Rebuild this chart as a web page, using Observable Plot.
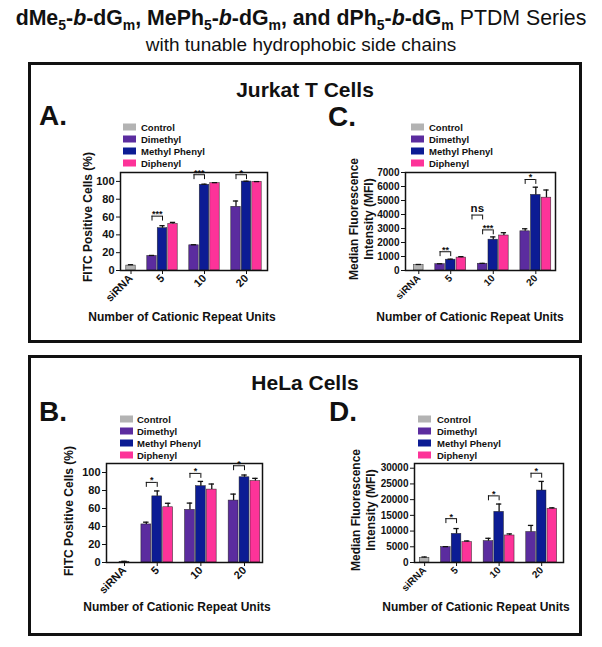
<!DOCTYPE html>
<html><head><meta charset="utf-8">
<script src="https://cdn.jsdelivr.net/npm/d3@7"></script>
<script src="https://cdn.jsdelivr.net/npm/@observablehq/plot@0.6"></script>
<style>
body{margin:0;background:#fff;}
#fig{position:relative;width:602px;height:647px;overflow:hidden;background:#fff;font-family:"Liberation Sans",Arial,Helvetica,sans-serif;}
.box{position:absolute;border:3px solid #111;box-sizing:border-box;}
.plot{position:absolute;}
#overlay{position:absolute;left:0;top:0;}
</style></head><body>
<div id="fig">
  <div class="box" style="left:28px;top:62px;width:554px;height:281px"></div>
  <div class="box" style="left:28px;top:355px;width:554px;height:281px"></div>
  <svg id="overlay" width="602" height="647"></svg>
</div>
<script>
// ---------- data ----------
const groups = ["siRNA", "5", "10", "20"];
const repeatGroups = ["5", "10", "20"];
const seriesNames = ["Control", "Dimethyl", "Methyl Phenyl", "Diphenyl"];
const seriesColors = ["#b3b3b3", "#5b2c9f", "#0c1c94", "#fd3399"];

const fitcTicks = [0, 20, 40, 60, 80, 100];
const jurkatMfiTicks = [0, 1000, 2000, 3000, 4000, 5000, 6000, 7000];
const helaMfiTicks = [0, 5000, 10000, 15000, 20000, 25000, 30000];

// Panel A: Jurkat, FITC positive cells (%)
const aControl = 5.5, aControlErr = 1;
const aDimethyl = [16.3, 28.3, 71.5], aDimethylErr = [0.6, 0.6, 6.5];
const aMethylPhenyl = [47.5, 96.2, 99.8], aMethylPhenylErr = [2.8, 0.7, 0.4];
const aDiphenyl = [52.2, 98.0, 99.5], aDiphenylErr = [1.8, 0.6, 0.3];
const aBrackets = [
  {group: "5", from: "Dimethyl", to: "Methyl Phenyl", y: 61, label: "***"},
  {group: "10", from: "Dimethyl", to: "Methyl Phenyl", y: 107.5, label: "***"},
  {group: "20", from: "Dimethyl", to: "Methyl Phenyl", y: 107.5, label: "*"}
];

// Panel C: Jurkat, MFI
const cControl = 380, cControlErr = 50;
const cDimethyl = [450, 480, 2800], cDimethylErr = [30, 30, 180];
const cMethylPhenyl = [770, 2200, 5400], cMethylPhenylErr = [40, 200, 550];
const cDiphenyl = [920, 2500, 5200], cDiphenylErr = [70, 200, 550];
const cBrackets = [
  {group: "5", from: "Dimethyl", to: "Methyl Phenyl", y: 1340, label: "**"},
  {group: "10", from: "Dimethyl", to: "Methyl Phenyl", y: 2900, label: "***"},
  {group: "10", from: "gap", to: "Dimethyl", y: 3960, label: "ns"},
  {group: "20", from: "Dimethyl", to: "Methyl Phenyl", y: 6500, label: "*"}
];

// Panel B: HeLa, FITC positive cells (%)
const bControl = 0.5, bControlErr = 0.8;
const bDimethyl = [42.3, 58.5, 68.8], bDimethylErr = [2.5, 7.5, 7.2];
const bMethylPhenyl = [73.5, 84.8, 94.7], bMethylPhenylErr = [6, 5.3, 2.5];
const bDiphenyl = [61.4, 81.0, 90.5], bDiphenylErr = [4.4, 6.2, 3];
const bBrackets = [
  {group: "5", from: "Dimethyl", to: "Methyl Phenyl", y: 89, label: "*"},
  {group: "10", from: "Dimethyl", to: "Methyl Phenyl", y: 99, label: "*"},
  {group: "20", from: "Dimethyl", to: "Methyl Phenyl", y: 107.5, label: "*"}
];

// Panel D: HeLa, MFI
const dControl = 1500, dControlErr = 250;
const dDimethyl = [4900, 6800, 9700], dDimethylErr = [150, 900, 2100];
const dMethylPhenyl = [9100, 16100, 22900], dMethylPhenylErr = [1700, 2500, 2900];
const dDiphenyl = [6500, 8600, 17100], dDiphenylErr = [350, 500, 300];
const dBrackets = [
  {group: "5", from: "Dimethyl", to: "Methyl Phenyl", y: 13950, label: "*"},
  {group: "10", from: "Dimethyl", to: "Methyl Phenyl", y: 21200, label: "*"},
  {group: "20", from: "Dimethyl", to: "Methyl Phenyl", y: 28400, label: "*"}
];

// ---------- helpers ----------
const FONT = "'Liberation Sans', Arial, Helvetica, sans-serif";
function slotOf(group, series) {
  if (group === "siRNA") return 0;
  const gi = repeatGroups.indexOf(group) + 1;
  if (series === "gap") return 4 * gi - 3;
  return 4 * gi - 2 + (seriesNames.indexOf(series) - 1);
}
const tickSlots = groups.map(g => g === "siRNA" ? 0 : slotOf(g, "Methyl Phenyl"));

function buildBars(ctrl, ctrlErr, series) {
  const rows = [{slot: 0, series: "Control", value: ctrl, err: ctrlErr}];
  series.forEach(([name, vals, errs]) => {
    repeatGroups.forEach((g, gi) => rows.push({slot: slotOf(g, name), series: name, value: vals[gi], err: errs[gi]}));
  });
  return rows;
}

function makePanel(cfg) {
  const [fx0, fy0, fx1, fy1] = cfg.frame;
  const ml = 50, mr = 8, mt = 8, mb = 50;
  const bars = buildBars(cfg.control, cfg.controlErr, cfg.series);
  const drop = cfg.ymax * 0.05;
  const br = cfg.brackets.map(b => ({s1: slotOf(b.group, b.from), s2: slotOf(b.group, b.to), y: b.y, label: b.label}));
  const stars = br.filter(b => b.label !== "ns");
  const ns = br.filter(b => b.label === "ns");
  const chart = Plot.plot({
    width: fx1 - fx0 + ml + mr,
    height: fy1 - fy0 + mt + mb,
    marginLeft: ml, marginRight: mr, marginTop: mt, marginBottom: mb,
    style: {fontFamily: FONT, fontSize: cfg.tickFont, fontWeight: "bold", color: "#111", background: "transparent", overflow: "visible"},
    x: {domain: cfg.xDomain, ticks: tickSlots, tickFormat: d => groups[tickSlots.indexOf(d)], tickRotate: -45, tickSize: 4, tickPadding: 2, label: null},
    y: {domain: [0, cfg.ymax], ticks: cfg.yTicks, tickFormat: d => String(d), tickSize: 4, tickPadding: 2, label: null},
    color: {domain: seriesNames, range: seriesColors},
    marks: [
      Plot.rect(bars, {x1: d => d.slot - 0.45, x2: d => d.slot + 0.45, y1: 0, y2: "value", fill: "series", stroke: "#1a1a1a", strokeWidth: 0.6, strokeOpacity: 0.8}),
      Plot.ruleX(bars, {x: "slot", y1: "value", y2: d => d.value + d.err, stroke: "#111", strokeWidth: 1.3}),
      Plot.ruleY(bars, {x1: d => d.slot - 0.25, x2: d => d.slot + 0.25, y: d => d.value + d.err, stroke: "#111", strokeWidth: 1.3}),
      Plot.ruleY(br, {x1: "s1", x2: "s2", y: "y", stroke: "#111", strokeWidth: 1}),
      Plot.ruleX(br, {x: "s1", y1: "y", y2: d => d.y - drop, stroke: "#111", strokeWidth: 1}),
      Plot.ruleX(br, {x: "s2", y1: "y", y2: d => d.y - drop, stroke: "#111", strokeWidth: 1}),
      Plot.text(stars, {x: d => (d.s1 + d.s2) / 2, y: "y", text: "label", dy: -2, fontSize: 9, fontWeight: "bold", fill: "#111"}),
      Plot.text(ns, {x: d => (d.s1 + d.s2) / 2, y: "y", text: "label", dy: -7, fontSize: 11.5, fontWeight: "bold", fill: "#111"}),
      Plot.frame({stroke: "#111", strokeWidth: 1.5})
    ]
  });
  chart.classList.add("plot");
  chart.style.left = (fx0 - ml) + "px";
  chart.style.top = (fy0 - mt) + "px";
  document.getElementById("fig").insertBefore(chart, document.getElementById("overlay"));
}

makePanel({frame: [120, 172, 267, 270], xDomain: [-1, 13], ymax: 110, yTicks: fitcTicks, tickFont: "11px",
  control: aControl, controlErr: aControlErr,
  series: [["Dimethyl", aDimethyl, aDimethylErr], ["Methyl Phenyl", aMethylPhenyl, aMethylPhenylErr], ["Diphenyl", aDiphenyl, aDiphenylErr]],
  brackets: aBrackets});
makePanel({frame: [405, 172, 555, 270], xDomain: [-1.25, 12.85], ymax: 7000, yTicks: jurkatMfiTicks, tickFont: "10px",
  control: cControl, controlErr: cControlErr,
  series: [["Dimethyl", cDimethyl, cDimethylErr], ["Methyl Phenyl", cMethylPhenyl, cMethylPhenylErr], ["Diphenyl", cDiphenyl, cDiphenylErr]],
  brackets: cBrackets});
makePanel({frame: [106, 463, 262, 562], xDomain: [-1.65, 12.65], ymax: 110, yTicks: fitcTicks, tickFont: "11px",
  control: bControl, controlErr: bControlErr,
  series: [["Dimethyl", bDimethyl, bDimethylErr], ["Methyl Phenyl", bMethylPhenyl, bMethylPhenylErr], ["Diphenyl", bDiphenyl, bDiphenylErr]],
  brackets: bBrackets});
makePanel({frame: [414, 463, 563, 562], xDomain: [-0.95, 13.05], ymax: 31500, yTicks: helaMfiTicks, tickFont: "10px",
  control: dControl, controlErr: dControlErr,
  series: [["Dimethyl", dDimethyl, dDimethylErr], ["Methyl Phenyl", dMethylPhenyl, dMethylPhenylErr], ["Diphenyl", dDiphenyl, dDiphenylErr]],
  brackets: dBrackets});

// ---------- overlay text: titles, letters, legends, axis titles ----------
const ov = d3.select("#overlay").style("font-family", FONT);
function txt(x, y, s, o = {}) {
  const t = ov.append("text").attr("x", x).attr("y", y).text(s)
    .attr("font-size", o.size || 12).attr("font-weight", o.weight || "bold")
    .attr("text-anchor", o.anchor || "start").attr("fill", "#111");
  if (o.central) t.attr("dominant-baseline", "central");
  if (o.rotate) t.attr("transform", `rotate(${o.rotate},${x},${y})`);
  return t;
}

// main title
const line1 = [["dMe","b"],["5","sub"],["-","b"],["b","bi"],["-dG","b"],["m","sub"],[", MePh","b"],["5","sub"],["-","b"],["b","bi"],["-dG","b"],["m","sub"],[", and dPh","b"],["5","sub"],["-","b"],["b","bi"],["-dG","b"],["m","sub"],[" PTDM Series","n"]];
const t1 = ov.append("text").attr("x", 301).attr("y", 25).attr("text-anchor", "middle").attr("font-size", 21.3).attr("fill", "#111");
let prevSub = false;
line1.forEach(([s, k]) => {
  const sp = t1.append("tspan").text(s);
  if (k === "sub") { sp.attr("font-size", 14).attr("font-weight", "bold").attr("dy", 5); prevSub = true; }
  else { if (prevSub) sp.attr("dy", -5); prevSub = false;
    sp.attr("font-weight", k === "n" ? "normal" : "bold");
    if (k === "bi") sp.attr("font-style", "italic"); }
});
txt(301, 51, "with tunable hydrophobic side chains", {size: 19, weight: "normal", anchor: "middle"});

// panel headers
txt(305, 97, "Jurkat T Cells", {size: 21, anchor: "middle"});
txt(305, 390, "HeLa Cells", {size: 21, anchor: "middle"});
txt(39, 125, "A.", {size: 28});
txt(328, 126, "C.", {size: 28});
txt(39, 421, "B.", {size: 28});
txt(329, 421, "D.", {size: 28});

// legends
function legend(sx, tx, ys) {
  seriesNames.forEach((s, i) => {
    ov.append("rect").attr("x", sx).attr("y", ys[i] - 3.5).attr("width", 13).attr("height", 7).attr("fill", seriesColors[i]);
    txt(tx, ys[i], s, {size: 9.5, central: true});
  });
}
legend(123, 141, [127, 139, 151, 163]);
legend(411, 429, [127, 139, 151, 163]);
legend(120, 137, [419, 431, 443, 455]);
legend(418, 437, [419, 431, 443, 455]);

// axis titles
txt(88, 217, "FITC Positive Cells (%)", {size: 12, anchor: "middle", central: true, rotate: -90});
txt(69, 511, "FITC Positive Cells (%)", {size: 12, anchor: "middle", central: true, rotate: -90});
txt(354, 219, "Median Fluorescence", {size: 12, anchor: "middle", central: true, rotate: -90});
txt(369, 219, "Intensity (MFI)", {size: 12, anchor: "middle", central: true, rotate: -90});
txt(356, 510, "Median Fluorescence", {size: 12, anchor: "middle", central: true, rotate: -90});
txt(371, 510, "Intensity (MFI)", {size: 12, anchor: "middle", central: true, rotate: -90});
txt(182, 317, "Number of Cationic Repeat Units", {size: 12, anchor: "middle", central: true});
txt(470, 317, "Number of Cationic Repeat Units", {size: 12, anchor: "middle", central: true});
txt(177, 607, "Number of Cationic Repeat Units", {size: 12, anchor: "middle", central: true});
txt(476, 607, "Number of Cationic Repeat Units", {size: 12, anchor: "middle", central: true});
</script>
</body></html>
